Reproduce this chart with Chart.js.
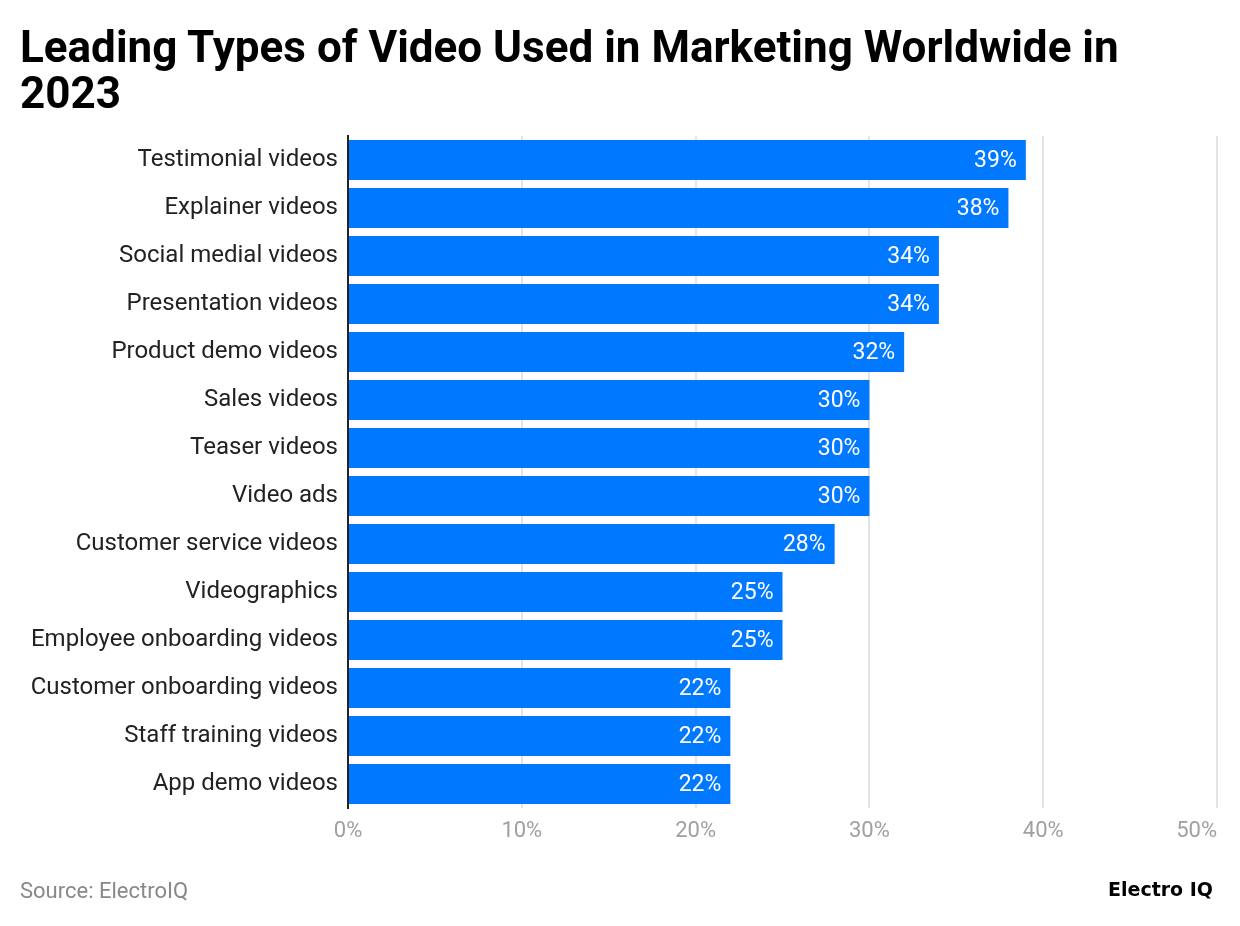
<!DOCTYPE html>
<html>
<head>
<meta charset="utf-8">
<script src="https://cdn.jsdelivr.net/npm/chart.js@4/dist/chart.umd.min.js"></script>
<style>
  html, body { margin: 0; padding: 0; background: #fff; }
  #wrap { position: relative; width: 1240px; height: 926px; overflow: hidden; }
  #title { position: absolute; left: 20px; top: 24px; width: 1210px; font-family: Roboto, sans-serif; font-weight: 700; font-size: 44px; line-height: 46px; color: #000; margin: 0; }
  #source { position: absolute; left: 20px; top: 878px; font-family: Roboto, sans-serif; font-size: 22px; color: #888; }
  #logo { position: absolute; right: 27px; top: 878px; font-family: "DejaVu Sans", sans-serif; font-weight: 700; font-size: 19px; color: #000; }
  canvas { position: absolute; left: 0; top: 0; }
</style>
</head>
<body>
<div id="wrap">
  <canvas id="c" width="1240" height="926"></canvas>
  <h1 id="title">Leading Types of Video Used in Marketing Worldwide in<br>2023</h1>
  <div id="source">Source: ElectroIQ</div>
  <div id="logo">Electro IQ</div>
</div>
<script>
const categories = [
  "Testimonial videos",
  "Explainer videos",
  "Social medial videos",
  "Presentation videos",
  "Product demo videos",
  "Sales videos",
  "Teaser videos",
  "Video ads",
  "Customer service videos",
  "Videographics",
  "Employee onboarding videos",
  "Customer onboarding videos",
  "Staff training videos",
  "App demo videos"
];
const values = [39, 38, 34, 34, 32, 30, 30, 30, 28, 25, 25, 22, 22, 22];
const xTicks = [0, 10, 20, 30, 40, 50];
const xTickLabels = ["0%", "10%", "20%", "30%", "40%", "50%"];

const valueLabels = {
  id: 'valueLabels',
  afterDatasetsDraw(chart) {
    const ctx = chart.ctx;
    const meta = chart.getDatasetMeta(0);
    ctx.save();
    ctx.font = '23px Roboto, sans-serif';
    ctx.fillStyle = '#ffffff';
    ctx.textAlign = 'right';
    ctx.textBaseline = 'middle';
    meta.data.forEach((bar, i) => {
      ctx.fillText(values[i] + '%', bar.x - 9, bar.y + 1);
    });
    ctx.restore();
  }
};

const xLabels = {
  id: 'xLabels',
  afterDraw(chart) {
    const ctx = chart.ctx;
    const xs = chart.scales.x;
    ctx.save();
    ctx.font = '22px Roboto, sans-serif';
    ctx.fillStyle = '#a0a0a0';
    ctx.textBaseline = 'middle';
    xTicks.forEach((v, i) => {
      ctx.textAlign = (i === xTicks.length - 1) ? 'right' : 'center';
      ctx.fillText(xTickLabels[i], xs.getPixelForValue(v), chart.chartArea.bottom + 23);
    });
    ctx.restore();
  }
};

new Chart(document.getElementById('c'), {
  type: 'bar',
  data: {
    labels: categories,
    datasets: [{
      data: values,
      backgroundColor: '#0078ff',
      borderWidth: 0,
      barPercentage: 40 / 48,
      categoryPercentage: 1.0
    }]
  },
  options: {
    indexAxis: 'y',
    responsive: false,
    animation: false,
    devicePixelRatio: 1,
    layout: { padding: { top: 136, right: 23, left: 0, bottom: 0 } },
    plugins: {
      legend: { display: false },
      tooltip: { enabled: false },
      title: { display: false }
    },
    scales: {
      x: {
        min: 0,
        max: 50,
        afterBuildTicks(scale) { scale.ticks = xTicks.map(v => ({ value: v })); },
        afterFit(scale) { scale.height = 118; scale.paddingRight = 0; scale.paddingLeft = 0; },
        ticks: { display: false },
        grid: { color: '#e4e4e4', lineWidth: 2, drawTicks: false },
        border: { display: false }
      },
      y: {
        afterFit(scale) { scale.width = 348; scale.paddingTop = 0; scale.paddingBottom = 0; },
        ticks: {
          color: '#222222',
          font: { family: 'Roboto, sans-serif', size: 24 },
          padding: 10
        },
        grid: { display: false, drawTicks: false },
        border: { display: true, color: '#222222', width: 2 }
      }
    }
  },
  plugins: [valueLabels, xLabels]
});
</script>
</body>
</html>
